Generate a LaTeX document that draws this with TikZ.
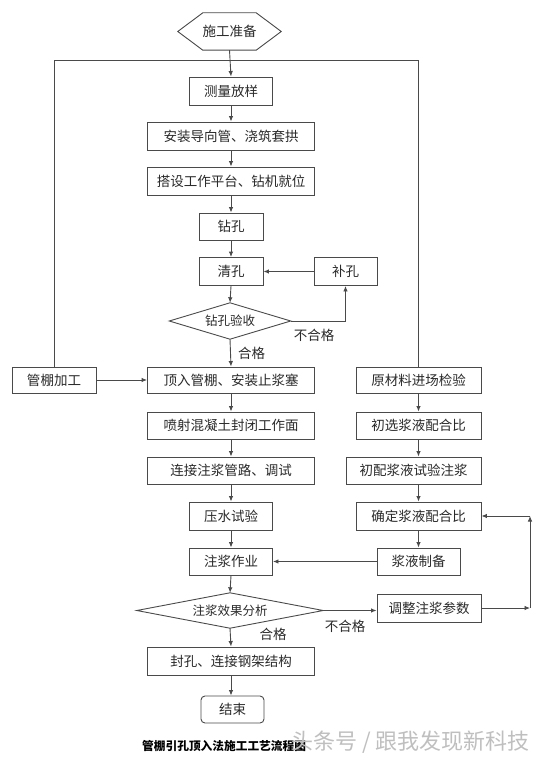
\documentclass[tikz,border=0pt]{standalone}
\usepackage{fontspec}
\newfontfamily\cjk{Noto Sans CJK SC}
\usetikzlibrary{arrows.meta,calc}
\definecolor{linec}{HTML}{4A4A4A}
\definecolor{txtc}{HTML}{2A2A2A}
\begin{document}
\begin{tikzpicture}[x=1pt,y=-1pt,
  font=\cjk\fontsize{13.5}{15}\selectfont,
  box/.style={draw=linec, line width=0.9pt, fill=white, minimum height=27, inner sep=0, text=txtc},
  plain/.style={inner sep=0, text=txtc},
  ln/.style={draw=linec, line width=0.9pt},
  arr/.style={draw=linec, line width=0.9pt, -{Latex[length=5.5pt,width=4.5pt]}},
  lab/.style={inner sep=0, text=txtc}]
\fill[white] (0,0) rectangle (545,762);
\useasboundingbox (0,0) rectangle (545,762);

% start hexagon
\node[plain, minimum width=103, minimum height=37] (prep) at (229.5,31.5) {施工准备};
\draw[ln] (prep.west) -- ($(prep.north west)+(25,0)$) -- ($(prep.north east)+(-25,0)$) -- (prep.east)
  -- ($(prep.south east)+(-25,0)$) -- ($(prep.south west)+(25,0)$) -- cycle;

% main column
\node[box, minimum width=83, minimum height=28] (s1) at (231,91) {测量放样};
\node[box, minimum width=167, minimum height=28] (s2) at (231,136) {安装导向管、浇筑套拱};
\node[box, minimum width=167, minimum height=28] (s3) at (231,181) {搭设工作平台、钻机就位};
\node[box, minimum width=64] (s4) at (231,226.5) {钻孔};
\node[box, minimum width=64, minimum height=28] (s5) at (231,271.5) {清孔};
\node[box, minimum width=63, minimum height=28] (bk) at (345.5,271.5) {补孔};
\node[plain, minimum width=121, minimum height=36, font=\cjk\fontsize{12.5}{14}\selectfont] (chk) at (230,321) {钻孔验收};
\draw[ln] (chk.north) -- (chk.east) -- (chk.south) -- (chk.west) -- cycle;
\node[box, minimum width=167, minimum height=26] (s6) at (231,380) {顶入管棚、安装止浆塞};
\node[box, minimum width=84, minimum height=26] (gj) at (54,380) {管棚加工};
\node[box, minimum width=125, minimum height=26] (ycl) at (418.5,380) {原材料进场检验};
\node[box, minimum width=167] (s7) at (231,425.5) {喷射混凝土封闭工作面};
\node[box, minimum width=125] (r2) at (418.5,425.5) {初选浆液配合比};
\node[box, minimum width=167] (s8) at (231,470.5) {连接注浆管路、调试};
\node[box, minimum width=135] (r3) at (413.5,470.5) {初配浆液试验注浆};
\node[box, minimum width=83, minimum height=28] (s9) at (231,516) {压水试验};
\node[box, minimum width=125, minimum height=28] (r4) at (418.5,516) {确定浆液配合比};
\node[box, minimum width=83] (s10) at (231,561.5) {注浆作业};
\node[box, minimum width=83] (r5) at (418.5,561.5) {浆液制备};
\node[plain, minimum width=186, minimum height=35, font=\cjk\fontsize{12.5}{14}\selectfont] (d2) at (230,610.5) {注浆效果分析};
\draw[ln] (d2.north) -- (d2.east) -- (d2.south) -- (d2.west) -- cycle;
\node[box, minimum width=104, minimum height=28] (adj) at (429,608) {调整注浆参数};
\node[box, minimum width=167, minimum height=28] (s11) at (231,661) {封孔、连接钢架结构};
\node[box, minimum width=63, rounded corners=4pt] (fin) at (232.5,709.5) {结束};

% loop from preparation
\coordinate (tl) at (53,60);
\coordinate (lp) at (530,0);
\draw[ln] (gj.north) -- (gj.north |- tl) -- (ycl.north |- tl) -- (ycl.north);

% main arrows
\draw[arr] (prep.south) -- (s1.north);
\draw[arr] (s1.south) -- (s2.north);
\draw[arr] (s2.south) -- (s3.north);
\draw[arr] (s3.south) -- (s4.north);
\draw[arr] (s4.south) -- (s5.north);
\draw[arr] (s5.south) -- (chk.north);
\draw[arr] (chk.south) -- (s6.north);
\draw[arr] (chk.east) -| (bk.south);
\draw[arr] (bk.west) -- (s5.east);
\draw[arr] (gj.east) -- (s6.west);
\draw[arr] (s6.south) -- (s7.north);
\draw[arr] (s7.south) -- (s8.north);
\draw[arr] (s8.south) -- (s9.north);
\draw[arr] (s9.south) -- (s10.north);
\draw[arr] (s10.south) -- (d2.north);
\draw[arr] (d2.south) -- (s11.north);
\draw[arr] (s11.south) -- (s11.south |- fin.north);
\draw[arr] (d2.east) -- (d2.east -| adj.west);

% right column
\draw[arr] (ycl.south) -- (r2.north);
\draw[arr] (r2.south) -- (r2.south |- r3.north);
\draw[arr] (r2.south |- r3.south) -- (r4.north);
\draw[arr] (r4.south) -- (r5.north);
\draw[arr] (r5.west) -- (s10.east);

% adjustment loop
\draw[arr] (adj.east) -- (adj.east -| lp);
\draw[arr] (adj.east -| lp) -- (r4.east -| lp);
\draw[arr] (r4.east -| lp) -- (r4.east);

% labels
\node[lab] (l1) at (251.5,353) {合格};
\node[lab] (l2) at (314,335) {不合格};
\node[lab] (l3) at (273,634) {合格};
\node[lab] (l4) at (345,626) {不合格};

% caption and watermark
\node[anchor=west, inner sep=0, text=black, font=\cjk\bfseries\fontsize{11.7}{13}\selectfont] (cap) at (142,746) {管棚引孔顶入法施工工艺流程图};
\node[anchor=west, inner sep=0, text=black!25, font=\cjk\fontsize{22}{24}\selectfont] (wm) at (291,742) {头条号 / 跟我发现新科技};
\end{tikzpicture}
\end{document}
